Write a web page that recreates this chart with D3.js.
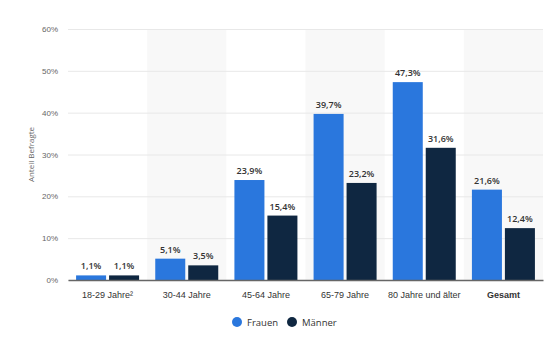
<!DOCTYPE html>
<html><head><meta charset="utf-8">
<script src="https://cdn.jsdelivr.net/npm/d3@7"></script>
<style>body{margin:0;background:#fff}svg{display:block;font-family:"Open Sans",Roboto,sans-serif}</style>
</head><body><svg width="546" height="340"></svg>
<script>
const categories = ["18-29 Jahre²","30-44 Jahre","45-64 Jahre","65-79 Jahre","80 Jahre und älter","Gesamt"];
const frauen = [1.1,5.1,23.9,39.7,47.3,21.6];
const maenner = [1.1,3.5,15.4,23.2,31.6,12.4];
const seriesNames = ["Frauen","Männer"];
const colors = ["#2a77dd","#0f2741"];
const yTicks = [0,10,20,30,40,50,60];

const svg = d3.select("svg");
const m = {left:68,right:3,top:29,bottom:60};
const W = 546, H = 340;
const x = d3.scaleBand().domain(categories).range([m.left, W - m.right]).paddingInner(0).paddingOuter(0);
const xs = d3.scaleBand().domain(seriesNames).range([0, x.bandwidth()]).paddingInner(0.09).paddingOuter(0.245);
const y = d3.scaleLinear().domain([0,60]).range([H - m.bottom, m.top]);

// alternating bands
svg.append("g").selectAll("rect").data(categories.filter((d,i)=>i%2===1)).join("rect")
  .attr("x", d=>x(d)).attr("width", x.bandwidth())
  .attr("y", y(60)).attr("height", y(0)-y(60)).attr("fill","#f8f8f8");

// grid
const yAxis = d3.axisLeft(y).tickValues(yTicks).tickFormat(d=>d+"%").tickSize(-(W-m.right-m.left)).tickPadding(10);
const gy = svg.append("g").attr("transform",`translate(${m.left},0)`).call(yAxis);
gy.select(".domain").remove();
gy.selectAll(".tick line").attr("stroke","#e8e8e8");
gy.selectAll(".tick text").attr("fill","#666").attr("font-size","8px");

svg.append("text").attr("transform",`translate(34,${(y(0)+y(60))/2}) rotate(-90)`)
  .attr("text-anchor","middle").attr("font-size","8px").attr("fill","#666").text("Anteil Befragte");

const data = categories.map((c,i)=>({c, vals:[frauen[i], maenner[i]]}));
const g = svg.append("g").selectAll("g").data(data).join("g").attr("transform",d=>`translate(${x(d.c)},0)`);
g.selectAll("rect").data(d=>d.vals.map((v,j)=>({v,s:seriesNames[j],j}))).join("rect")
  .attr("x",d=>xs(d.s)).attr("width",xs.bandwidth())
  .attr("y",d=>y(d.v)).attr("height",d=>y(0)-y(d.v)).attr("fill",d=>colors[d.j]);
g.selectAll("text").data(d=>d.vals.map((v,j)=>({v,s:seriesNames[j],j}))).join("text")
  .attr("x",d=>xs(d.s)+xs.bandwidth()/2).attr("y",d=>y(d.v)-6)
  .attr("text-anchor","middle").attr("font-size","9px").attr("font-weight","600").attr("fill","#333")
  .text(d=>d3.format(".1f")(d.v).replace(".",",")+"%");

// x axis
const xAxis = d3.axisBottom(x).tickSize(0).tickPadding(12);
const gx = svg.append("g").attr("transform",`translate(0,${y(0)})`).call(xAxis);
gx.select(".domain").attr("stroke","#666").attr("stroke-width",1.5);
gx.selectAll(".tick text").attr("fill","#333").attr("font-size","9px")
  .attr("font-weight",d=>d==="Gesamt"?"600":"400");

// legend
const lg = svg.append("g");
const lx = [237, 292];
seriesNames.forEach((s,i)=>{
  lg.append("circle").attr("cx",lx[i]).attr("cy",322).attr("r",5).attr("fill",colors[i]);
  lg.append("text").attr("x",lx[i]+10).attr("y",325.5).attr("font-size","9.5px").attr("fill","#333").text(s);
});
</script></body></html>
